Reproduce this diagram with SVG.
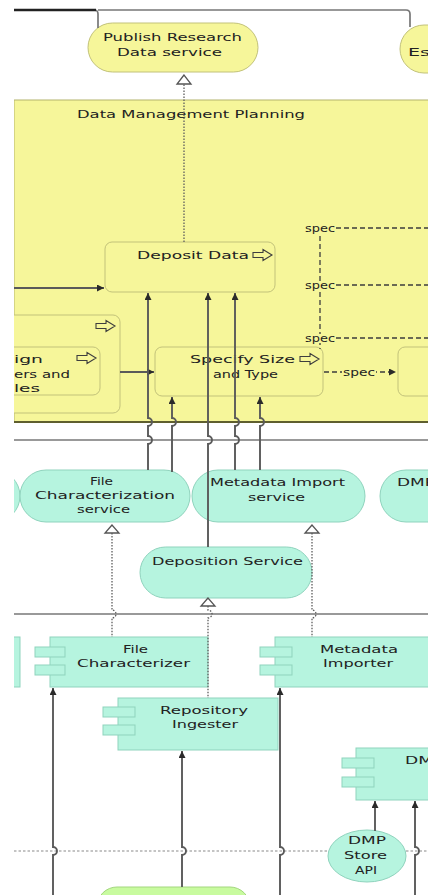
<svg xmlns="http://www.w3.org/2000/svg" width="428" height="895" viewBox="0 0 428 895">
  <defs>
    <style>
      .t{font-family:"DejaVu Sans","Liberation Sans",sans-serif;font-size:10.5px;fill:#222}
      .biz{fill:#f6f69a;stroke:#c2c27a;stroke-width:1}
      .app{fill:#b6f4df;stroke:#8fd3bd;stroke-width:1}
      .grn{fill:#c8fb9f;stroke:#a3d77e;stroke-width:1}
      .ln{fill:none;stroke:#5a5a5a;stroke-width:1.9}
      .hl{fill:none;stroke:#777;stroke-width:1.7}
      .dot{fill:none;stroke:#5e5e5e;stroke-width:1.3;stroke-dasharray:1.5 1.5}
      .ldot{fill:none;stroke:#8a8a8a;stroke-width:1.1;stroke-dasharray:2.5 2}
      .dash{fill:none;stroke:#3c3c3c;stroke-width:1.3;stroke-dasharray:5 3}
      .hollow{fill:#fff;stroke:#555;stroke-width:1.3}
      .icon{fill:#f6f69a;stroke:#3e3e3e;stroke-width:1.1}
      .lbg{fill:#f6f69a}
    </style>
    <marker id="tip" viewBox="0 0 8 8" refX="8" refY="4" markerWidth="8" markerHeight="7" orient="auto" markerUnits="userSpaceOnUse">
      <path d="M0,0 L8,4 L0,8 z" fill="#2a2a2a"/>
    </marker>
    <path id="proc" d="M0,-2.5 H10 V-5.5 L19,0 L10,5.5 V2.5 H0 Z"/>
    <clipPath id="page"><rect x="14" y="0" width="414" height="895"/></clipPath>
  </defs>

  <rect width="428" height="895" fill="#fff"/>

  <g clip-path="url(#page)">
    <!-- business layer group -->
    <g id="data-management-planning">
      <rect x="14" y="100" width="430" height="322" fill="#f6f69a" stroke="#b4b46c" stroke-width="1"/>
      <text class="t" x="77" y="118" textLength="228" lengthAdjust="spacingAndGlyphs">Data Management Planning</text>
    </g>

    <g id="publish-research-data-service">
      <rect class="biz" x="88" y="23" width="170" height="49" rx="24.5"/>
      <text class="t" x="103" y="41" textLength="139" lengthAdjust="spacingAndGlyphs">Publish Research</text>
      <text class="t" x="117" y="56" textLength="105" lengthAdjust="spacingAndGlyphs">Data service</text>
    </g>

    <g id="es-service">
      <rect class="biz" x="400" y="25" width="80" height="48" rx="24"/>
      <text class="t" x="408" y="56" textLength="22" lengthAdjust="spacingAndGlyphs">Es</text>
    </g>

    <g id="deposit-data">
      <rect class="biz" x="105" y="242" width="170" height="50" rx="7"/>
      <text class="t" x="137" y="259" textLength="112" lengthAdjust="spacingAndGlyphs">Deposit Data</text>
      <use href="#proc" class="icon" x="253" y="255"/>
    </g>

    <g id="design-process">
      <rect class="biz" x="-20" y="315" width="140" height="98" rx="7"/>
      <use href="#proc" class="icon" x="96" y="326"/>
      <rect class="biz" x="-20" y="347" width="120" height="48" rx="7"/>
      <use href="#proc" class="icon" x="77" y="358"/>
      <text class="t" x="14" y="363" textLength="29" lengthAdjust="spacingAndGlyphs">ign</text>
      <text class="t" x="14" y="378" textLength="56" lengthAdjust="spacingAndGlyphs">ers and</text>
      <text class="t" x="14" y="392" textLength="26" lengthAdjust="spacingAndGlyphs">les</text>
    </g>

    <g id="specify-size-and-type">
      <rect class="biz" x="155" y="347" width="168" height="49" rx="7"/>
      <text class="t" x="190" y="363" textLength="105" lengthAdjust="spacingAndGlyphs">Specify Size</text>
      <text class="t" x="213" y="378" textLength="65" lengthAdjust="spacingAndGlyphs">and Type</text>
      <use href="#proc" class="icon" x="300" y="359"/>
    </g>

    <g id="next-process">
      <rect class="biz" x="398" y="347" width="60" height="49" rx="7"/>
    </g>

    <!-- application services -->
    <g id="left-service">
      <rect class="app" x="-60" y="470" width="80" height="52" rx="26"/>
    </g>
    <g id="file-characterization-service">
      <rect class="app" x="20" y="470" width="170" height="52" rx="26"/>
      <text class="t" x="90" y="485" textLength="23" lengthAdjust="spacingAndGlyphs">File</text>
      <text class="t" x="35" y="499" textLength="140" lengthAdjust="spacingAndGlyphs">Characterization</text>
      <text class="t" x="77" y="513" textLength="53" lengthAdjust="spacingAndGlyphs">service</text>
    </g>
    <g id="metadata-import-service">
      <rect class="app" x="192" y="470" width="173" height="52" rx="26"/>
      <text class="t" x="210" y="486" textLength="135" lengthAdjust="spacingAndGlyphs">Metadata Import</text>
      <text class="t" x="248" y="501" textLength="57" lengthAdjust="spacingAndGlyphs">service</text>
    </g>
    <g id="dmp-service">
      <rect class="app" x="380" y="470" width="100" height="52" rx="26"/>
      <text class="t" x="397" y="486" textLength="38" lengthAdjust="spacingAndGlyphs">DMP</text>
    </g>
    <g id="deposition-service">
      <rect class="app" x="140" y="547" width="172" height="51" rx="25.5"/>
      <text class="t" x="152" y="565" textLength="151" lengthAdjust="spacingAndGlyphs">Deposition Service</text>
    </g>

    <!-- application components -->
    <g id="left-component">
      <rect class="app" x="-40" y="637" width="60" height="50"/>
    </g>
    <g id="file-characterizer">
      <rect class="app" x="50" y="637" width="158" height="50"/>
      <rect class="app" x="35" y="647" width="30" height="10"/>
      <rect class="app" x="35" y="665" width="30" height="10"/>
      <text class="t" x="123" y="653" textLength="25" lengthAdjust="spacingAndGlyphs">File</text>
      <text class="t" x="77" y="667" textLength="113" lengthAdjust="spacingAndGlyphs">Characterizer</text>
    </g>
    <g id="metadata-importer">
      <rect class="app" x="275" y="637" width="170" height="50"/>
      <rect class="app" x="260" y="647" width="32" height="10"/>
      <rect class="app" x="260" y="665" width="32" height="10"/>
      <text class="t" x="320" y="653" textLength="78" lengthAdjust="spacingAndGlyphs">Metadata</text>
      <text class="t" x="323" y="667" textLength="70" lengthAdjust="spacingAndGlyphs">Importer</text>
    </g>
    <g id="repository-ingester">
      <rect class="app" x="118" y="698" width="160" height="52"/>
      <rect class="app" x="103" y="707" width="32" height="10"/>
      <rect class="app" x="103" y="725" width="32" height="10"/>
      <text class="t" x="160" y="714" textLength="88" lengthAdjust="spacingAndGlyphs">Repository</text>
      <text class="t" x="172" y="728" textLength="66" lengthAdjust="spacingAndGlyphs">Ingester</text>
    </g>
    <g id="dmp-component">
      <rect class="app" x="356" y="748" width="90" height="52"/>
      <rect class="app" x="342" y="758" width="32" height="10"/>
      <rect class="app" x="342" y="777" width="32" height="10"/>
      <text class="t" x="405" y="764" textLength="28" lengthAdjust="spacingAndGlyphs">DM</text>
    </g>
    <g id="dmp-store-api">
      <ellipse class="app" cx="367" cy="856" rx="39" ry="26"/>
      <text class="t" x="348" y="844" textLength="38" lengthAdjust="spacingAndGlyphs">DMP</text>
      <text class="t" x="344" y="859" textLength="43" lengthAdjust="spacingAndGlyphs">Store</text>
      <text class="t" x="355" y="874" textLength="22" lengthAdjust="spacingAndGlyphs">API</text>
    </g>
    <g id="technology-node">
      <rect class="grn" x="97" y="887" width="153" height="40" rx="20"/>
    </g>

    <!-- connectors -->
    <g id="connectors">
      <!-- top routes -->
      <path class="hl" d="M14,10 H94 Q98,10 98,14 V28"/>
      <path class="hl" d="M98,10 H406 Q410,10 410,14 V27"/>
      <path d="M14,10 H96" stroke="#222" stroke-width="2.4" fill="none"/>

      <!-- realization into Publish Research Data service -->
      <path class="dot" d="M184,242 V84"/>
      <polygon class="hollow" points="184,75 177,84 191,84"/>

      <!-- triggering flows inside the group -->
      <path class="ln" d="M14,288 H104" marker-end="url(#tip)"/>
      <path class="ln" d="M120,372 H154" marker-end="url(#tip)"/>

      <!-- spec flows -->
      <path class="dash" d="M320,228 V349"/>
      <path class="dash" d="M320,228 H428 M320,285 H428 M320,338 H428"/>
      <rect class="lbg" x="304" y="224" width="32" height="9"/>
      <rect class="lbg" x="304" y="281" width="32" height="9"/>
      <rect class="lbg" x="304" y="334" width="32" height="9"/>
      <text class="t" x="305" y="232" textLength="30" lengthAdjust="spacingAndGlyphs">spec</text>
      <text class="t" x="305" y="289" textLength="30" lengthAdjust="spacingAndGlyphs">spec</text>
      <text class="t" x="305" y="342" textLength="30" lengthAdjust="spacingAndGlyphs">spec</text>
      <path class="dash" d="M324,372 H396" marker-end="url(#tip)"/>
      <rect class="lbg" x="342" y="368" width="34" height="9"/>
      <text class="t" x="343" y="376" textLength="32" lengthAdjust="spacingAndGlyphs">spec</text>

      <!-- horizontal routes under the group -->
      <path d="M14,422 H428" stroke="#5f5f2e" stroke-width="2" fill="none"/>
      <path class="hl" d="M14,440 H428"/>

      <!-- serving lines from services up into the processes -->
      <path class="ln" d="M148,470 V444 A4,4 0 0 0 148,436 V426 A4,4 0 0 0 148,418 V293" marker-end="url(#tip)"/>
      <path class="ln" d="M172,472 V426 A4,4 0 0 0 172,418 V397" marker-end="url(#tip)"/>
      <path class="ln" d="M208,547 V444 A4,4 0 0 0 208,436 V293" marker-end="url(#tip)"/>
      <path class="ln" d="M235,470 V444 A4,4 0 0 0 235,436 V426 A4,4 0 0 0 235,418 V293" marker-end="url(#tip)"/>
      <path class="ln" d="M260,470 V426 A4,4 0 0 0 260,418 V397" marker-end="url(#tip)"/>

      <!-- realizations from components to services -->
      <path class="hl" d="M14,614 H428"/>
      <path class="dot" d="M112,533 V610 A4,4 0 0 1 112,618 V637"/>
      <polygon class="hollow" points="112,525 105,533 119,533"/>
      <path class="dot" d="M312,533 V610 A4,4 0 0 1 312,618 V637"/>
      <polygon class="hollow" points="312,525 305,533 319,533"/>
      <path class="dot" d="M208,606 V610 A4,4 0 0 1 208,618 V698"/>
      <polygon class="hollow" points="208,598 201,606 215,606"/>

      <!-- lower layer -->
      <path class="ldot" d="M14,851 H328 M406,851 H428"/>
      <path class="ln" d="M53,895 V855 A4,4 0 0 0 53,847 V688" marker-end="url(#tip)"/>
      <path class="ln" d="M182,887 V855 A4,4 0 0 0 182,847 V751" marker-end="url(#tip)"/>
      <path class="ln" d="M280,895 V855 A4,4 0 0 0 280,847 V688" marker-end="url(#tip)"/>
      <path class="ln" d="M375,831 V801" marker-end="url(#tip)"/>
      <path class="ln" d="M415,895 V855 A4,4 0 0 0 415,847 V801" marker-end="url(#tip)"/>
    </g>
  </g>
</svg>
